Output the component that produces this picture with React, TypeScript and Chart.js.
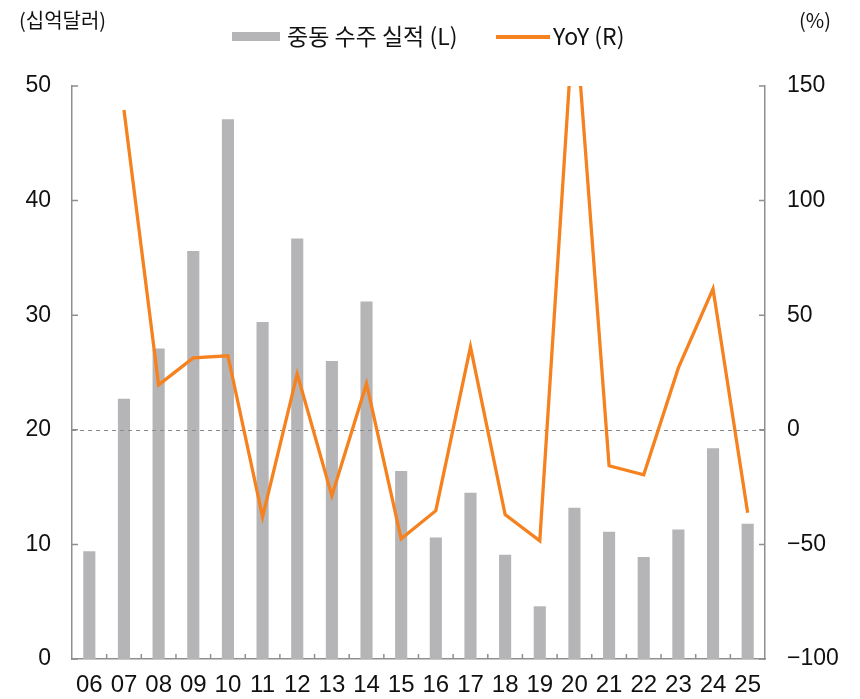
import React, { useEffect, useRef } from "react";
import { Chart, registerables } from "chart.js";

Chart.register(...registerables);

const categories = ["06", "07", "08", "09", "10", "11", "12", "13", "14", "15", "16", "17", "18", "19", "20", "21", "22", "23", "24", "25"];
const orders = [9.4, 22.7, 27.1, 35.6, 47.1, 29.4, 36.7, 26.0, 31.2, 16.4, 10.6, 14.5, 9.1, 4.6, 13.2, 11.1, 8.9, 11.3, 18.4, 11.8];
const yoy: (number | null)[] = [null, 139.5, 19.6, 31.4, 32.3, -38, 24.4, -28.8, 20.1, -47.6, -35.3, 36.2, -37, -48.4, 186, -15.7, -19.6, 27, 61.5, -36.2];
const leftTicks = [0, 10, 20, 30, 40, 50];
const rightTicks = [-100, -50, 0, 50, 100, 150];

const BAR = "#b5b5b7";
const ORANGE = "#f5821f";
const AXIS = "#8f8f8f";

const decorPlugin = {
  id: "decor",
  beforeDatasetDraw(chart: any, args: any) {
    if (args.index !== 1) return;
    const { ctx, chartArea } = chart;
    const yR = chart.scales.yR;
    const y = Math.round(yR.getPixelForValue(0)) + 0.5;
    ctx.save();
    ctx.strokeStyle = "#8a8a8a";
    ctx.lineWidth = 1;
    ctx.setLineDash([4, 4]);
    ctx.beginPath();
    ctx.moveTo(chartArea.left, y);
    ctx.lineTo(chartArea.right, y);
    ctx.stroke();
    ctx.restore();
  },
  afterDraw(chart: any) {
    const { ctx, chartArea } = chart;
    const x = chart.scales.x;
    const yL = chart.scales.yL;
    const yR = chart.scales.yR;
    ctx.save();
    ctx.strokeStyle = AXIS;
    ctx.lineWidth = 1.5;
    ctx.beginPath();
    leftTicks.forEach((v) => {
      const y = yL.getPixelForValue(v);
      ctx.moveTo(chartArea.left, y);
      ctx.lineTo(chartArea.left + 6, y);
    });
    rightTicks.forEach((v) => {
      const y = yR.getPixelForValue(v);
      ctx.moveTo(chartArea.right, y);
      ctx.lineTo(chartArea.right - 6, y);
    });
    for (let i = 1; i < categories.length; i++) {
      const px = (x.getPixelForValue(i - 1) + x.getPixelForValue(i)) / 2;
      ctx.moveTo(px, chartArea.bottom);
      ctx.lineTo(px, chartArea.bottom - 5);
    }
    ctx.stroke();
    ctx.restore();
  },
};

export default function App() {
  const ref = useRef<HTMLCanvasElement | null>(null);

  useEffect(() => {
    if (!ref.current) return;
    const chart = new Chart(ref.current, {
      type: "bar",
      data: {
        labels: categories,
        datasets: [
          {
            type: "bar",
            label: "중동 수주 실적 (L)",
            data: orders,
            backgroundColor: BAR,
            yAxisID: "yL",
            barPercentage: 0.35,
            categoryPercentage: 1,
            order: 2,
          },
          {
            type: "line",
            label: "YoY (R)",
            data: yoy,
            borderColor: ORANGE,
            backgroundColor: ORANGE,
            borderWidth: 3.3,
            pointRadius: 0,
            tension: 0,
            yAxisID: "yR",
            order: 1,
          } as any,
        ],
      },
      options: {
        animation: false,
        responsive: true,
        maintainAspectRatio: false,
        layout: { padding: { top: 86, left: 0, right: 0, bottom: 0 } },
        plugins: { legend: { display: false }, tooltip: { enabled: false } },
        scales: {
          x: {
            offset: true,
            grid: { display: false, drawTicks: false },
            border: { display: true, color: AXIS, width: 1.5 },
            ticks: {
              color: "#111",
              font: { family: "Liberation Sans", size: 24 },
              padding: 12,
              maxRotation: 0,
              autoSkip: false,
            },
            afterFit(scale: any) {
              scale.height = 40;
            },
          },
          yL: {
            position: "left",
            min: 0,
            max: 50,
            grid: { display: false, drawTicks: false },
            border: { display: true, color: AXIS, width: 1.5 },
            ticks: {
              stepSize: 10,
              color: "#111",
              font: { family: "Liberation Sans", size: 23 },
              padding: 21,
            },
            afterFit(scale: any) {
              scale.width = 72;
            },
          },
          yR: {
            position: "right",
            min: -100,
            max: 150,
            grid: { display: false, drawTicks: false },
            border: { display: true, color: AXIS, width: 1.5 },
            ticks: {
              stepSize: 50,
              color: "#111",
              font: { family: "Liberation Sans", size: 23 },
              padding: 22,
              callback: (v: any) => (Number(v) < 0 ? "\u2212" + Math.abs(Number(v)) : String(v)),
            },
            afterFit(scale: any) {
              scale.width = 95;
            },
          },
        },
      },
      plugins: [decorPlugin],
    });
    return () => chart.destroy();
  }, []);

  const textStyle: React.CSSProperties = {
    position: "absolute",
    fontFamily: "'Noto Sans CJK KR', 'Noto Sans', sans-serif",
    color: "#111",
    whiteSpace: "nowrap",
    lineHeight: 1,
  };

  return (
    <div style={{ position: "fixed", left: 0, top: 0, width: 860, height: 699, background: "#fff" }}>
      <canvas ref={ref} />
      <div style={{ ...textStyle, left: 19, top: 10, fontSize: 20 }}>(십억달러)</div>
      <div style={{ ...textStyle, left: 799, top: 10, fontSize: 20 }}>(%)</div>
      <div style={{ position: "absolute", left: 232, top: 32, width: 48, height: 9, background: BAR }} />
      <div style={{ ...textStyle, left: 287, top: 24, fontSize: 23 }}>중동 수주 실적 (L)</div>
      <div style={{ position: "absolute", left: 496, top: 35, width: 54, height: 4, background: ORANGE }} />
      <div style={{ ...textStyle, left: 553, top: 24, fontSize: 23 }}>YoY (R)</div>
    </div>
  );
}
